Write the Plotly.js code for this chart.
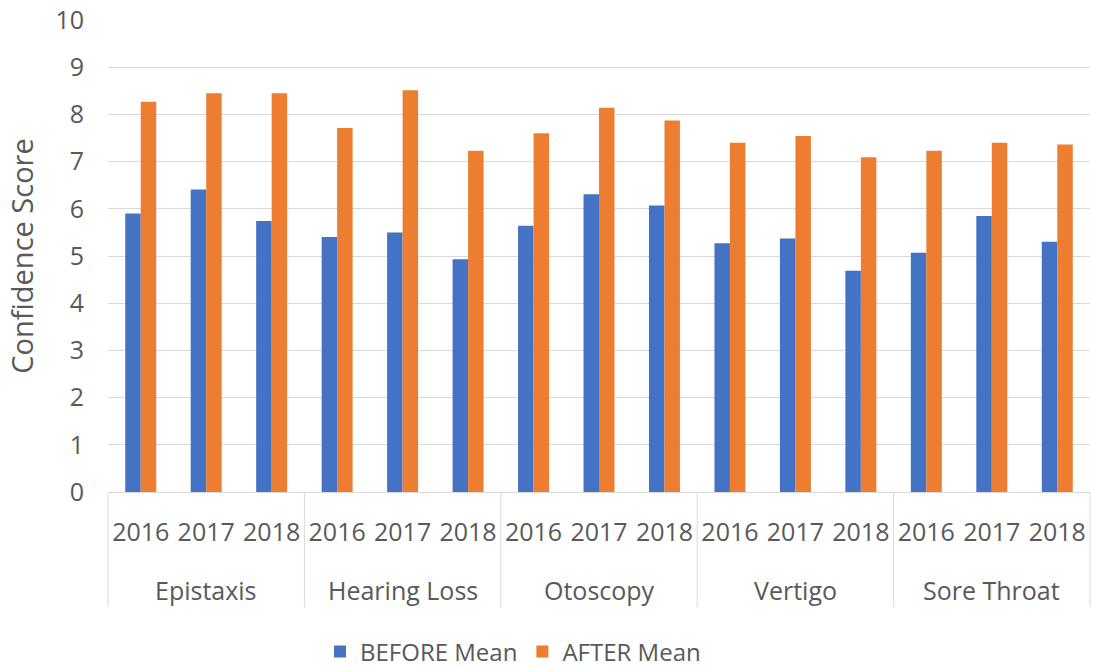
<!DOCTYPE html>
<html>
<head>
<meta charset="utf-8">
<script src="https://cdn.plot.ly/plotly-3.0.1.min.js"></script>
<style>html,body{margin:0;padding:0;background:#fff;}#chart{width:1093px;height:667px;}</style>
</head>
<body>
<div id="chart"></div>
<script>
const groups = ["Epistaxis", "Hearing Loss", "Otoscopy", "Vertigo", "Sore Throat"];
const years = ["2016", "2017", "2018"];
const beforeMean = [5.90, 6.41, 5.74, 5.40, 5.50, 4.93, 5.64, 6.31, 6.07, 5.27, 5.37, 4.69, 5.07, 5.85, 5.30];
const afterMean  = [8.27, 8.45, 8.45, 7.71, 8.51, 7.23, 7.60, 8.14, 7.87, 7.40, 7.54, 7.09, 7.23, 7.40, 7.36];
const yTicks = [0,1,2,3,4,5,6,7,8,9,10];

const nCat = groups.length * years.length;
const xIdx = [], xYearText = [];
groups.forEach((g, gi) => years.forEach((y, yi) => { xIdx.push(gi * years.length + yi); xYearText.push(y); }));

const font = "'Open Sans', Lato, sans-serif";
const textColor = '#595959';
const lineColor = '#d9d9d9';

const data = [
  {type: 'bar', name: 'BEFORE Mean', x: xIdx, y: beforeMean, marker: {color: '#4472C4'}},
  {type: 'bar', name: 'AFTER Mean', x: xIdx, y: afterMean, marker: {color: '#ED7D31'}}
];

const plotH = 667 - 20 - 175;
const annotations = groups.map((g, gi) => ({
  text: g, xref: 'paper', yref: 'paper',
  x: (gi * years.length + years.length / 2) / nCat, y: -(590 - 492) / plotH,
  xanchor: 'center', yanchor: 'middle', showarrow: false,
  font: {family: font, size: 25, color: textColor}
}));
const shapes = [];
for (let k = 0; k <= groups.length; k++) {
  shapes.push({type: 'line', xref: 'paper', yref: 'paper',
    x0: k * years.length / nCat, x1: k * years.length / nCat,
    y0: 0, y1: -(607 - 492) / plotH,
    line: {color: lineColor, width: 1}});
}

const layout = {
  width: 1093, height: 667,
  margin: {l: 108, r: 3, t: 20, b: 175},
  paper_bgcolor: '#fff', plot_bgcolor: '#fff',
  font: {family: font, color: textColor, size: 25},
  barmode: 'group', bargap: 0.527, bargroupgap: 0,
  xaxis: {
    range: [-0.5, nCat - 0.5], tickvals: xIdx, ticktext: xYearText, tickangle: 0,
    showline: true, linecolor: lineColor, linewidth: 1, showgrid: false, zeroline: false,
    tickfont: {size: 25, color: textColor}, ticks: '', ticklabelstandoff: 18
  },
  yaxis: {
    range: [0, 10], tickvals: yTicks, ticktext: yTicks.map(String),
    showgrid: true, gridcolor: lineColor, gridwidth: 1, zeroline: false,
    tickfont: {size: 25, color: textColor}, ticks: '', ticklabelstandoff: 23,
    title: {text: 'Confidence Score', font: {size: 29, color: textColor}, standoff: 13}
  },
  annotations: annotations,
  shapes: shapes,
  showlegend: true,
  legend: {orientation: 'h', xref: 'container', yref: 'container',
           x: 320 / 1093, xanchor: 'left', y: 1 - 652 / 667, yanchor: 'middle',
           font: {size: 24, color: textColor}, itemwidth: 30, traceorder: 'normal'}
};
Plotly.newPlot('chart', data, layout, {displayModeBar: false});
</script>
</body>
</html>
